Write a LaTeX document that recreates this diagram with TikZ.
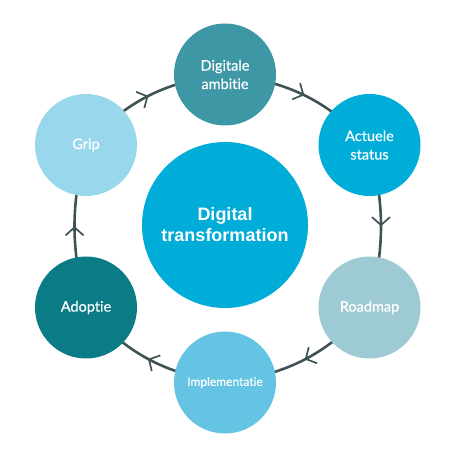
\documentclass[tikz,border=0pt]{standalone}
\usepackage{fontspec}
\setmainfont{Lato}[Ligatures=NoCommon]
\newfontfamily\labelfont{Lato}[Ligatures=NoCommon, FakeBold=0.5]
\newfontfamily\centerfont{Liberation Sans}
\usetikzlibrary{arrows.meta,decorations.markings,backgrounds}
\definecolor{ringc}{HTML}{3F5254}
\definecolor{cDig}{HTML}{3D97A4}
\definecolor{cAct}{HTML}{00ACD8}
\definecolor{cRoad}{HTML}{9ECAD3}
\definecolor{cImpl}{HTML}{65C4E3}
\definecolor{cAdop}{HTML}{0B7B86}
\definecolor{cGrip}{HTML}{99D8EC}
\definecolor{cCenter}{HTML}{00ACD8}
\begin{document}
\begin{tikzpicture}[x=1pt,y=1pt]
\tikzset{
  bub/.style={circle, minimum size=102pt, inner sep=0pt, text=white,
    font=\labelfont\fontsize{14.5}{18.5}\selectfont, align=center},
  link/.style={draw=ringc, line width=2.6pt, postaction={decorate},
    decoration={markings, mark=at position 0.5 with
      {\arrow[ringc, line width=1.7pt]{Straight Barb[length=8pt,width=18pt]}}}}
}
\useasboundingbox (0,0) rectangle (450,450);
\node[bub, fill=cDig]  (dig)  at (225,375.5) {Digitale\\ambitie};
\node[bub, fill=cAct]  (act)  at (369.5,305) {Actuele\\status};
\node[bub, fill=cRoad] (road) at (369.5,142.5) {Roadmap};
\node[bub, fill=cImpl, font=\labelfont\fontsize{12}{15}\selectfont] (impl) at (225,67.5) {Implementatie};
\node[bub, fill=cAdop] (adop) at (86,142.5) {Adoptie};
\node[bub, fill=cGrip] (grip) at (86,305) {Grip};
\node[circle, fill=cCenter, minimum size=166pt, inner sep=0pt, text=white, align=center,
  font=\centerfont\bfseries\fontsize{18}{21}\selectfont] (center) at (225,225) {Digital\\transformation};
\begin{scope}[on background layer]
\draw[link] (dig.center)  to[bend left=20] (act.center);
\draw[link] (act.center)  to[bend left=14] (road.center);
\draw[link] (road.center) to[bend left=20] (impl.center);
\draw[link] (impl.center) to[bend left=20] (adop.center);
\draw[link] (adop.center) to[bend left=14] (grip.center);
\draw[link] (grip.center) to[bend left=20] (dig.center);
\end{scope}
\end{tikzpicture}
\end{document}
